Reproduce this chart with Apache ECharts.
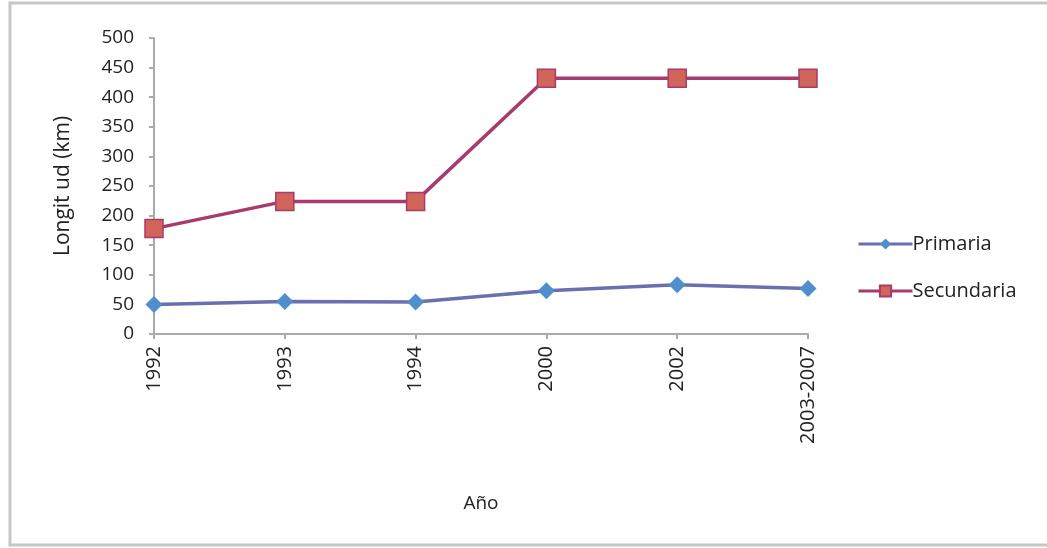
<!DOCTYPE html>
<html><head><meta charset="utf-8">
<script src="https://cdn.jsdelivr.net/npm/echarts@6/dist/echarts.min.js"></script>
<style>html,body{margin:0;padding:0;background:#fff}#c{width:1047px;height:548px}</style>
</head><body><div id="c"></div>
<script>
const categories = ['1992','1993','1994','2000','2002','2003-2007'];
const primaria = [50, 55, 54, 73, 83, 77];
const secundaria = [178, 224, 224, 432, 432, 432];
const yTicks = {min: 0, max: 500, interval: 50};

const font = 'Open Sans';
const chart = echarts.init(document.getElementById('c'), null, {renderer: 'canvas'});
chart.setOption({
  animation: false,
  backgroundColor: '#fff',
  graphic: [{
    type: 'rect', shape: {x: 10, y: 3, width: 1045, height: 542},
    style: {fill: 'none', stroke: '#c6c6c6', lineWidth: 3}, silent: true
  }],
  grid: {left: 154, right: 239, top: 38, bottom: 214},
  legend: {
    orient: 'vertical', left: 852, top: 229, itemGap: 27,
    itemWidth: 54, itemHeight: 14,
    lineStyle: {width: 3},
    textStyle: {fontFamily: font, fontSize: 20, color: '#222', padding: [0,0,0,-5]},
    data: ['Primaria', 'Secundaria']
  },
  xAxis: {
    type: 'category', data: categories, boundaryGap: false,
    name: 'Año', nameLocation: 'middle', nameGap: 160,
    nameTextStyle: {fontFamily: font, fontSize: 19, color: '#222'},
    axisLine: {lineStyle: {color: '#aaaaaa', width: 2}},
    axisTick: {show: true, alignWithLabel: true, length: 5, lineStyle: {color: '#aaaaaa', width: 2}},
    axisLabel: {rotate: 90, fontFamily: font, fontSize: 20, color: '#222', margin: 12, interval: 0}
  },
  yAxis: {
    type: 'value', min: yTicks.min, max: yTicks.max, interval: yTicks.interval,
    name: 'Longit ud (km)', nameLocation: 'middle', nameGap: 80, nameRotate: 90,
    nameTextStyle: {fontFamily: font, fontSize: 21, color: '#222'},
    splitLine: {show: false},
    axisLine: {show: true, lineStyle: {color: '#aaaaaa', width: 2}},
    axisTick: {show: true, length: 5, lineStyle: {color: '#aaaaaa', width: 2}},
    axisLabel: {fontFamily: font, fontSize: 19, color: '#222', margin: 20}
  },
  series: [
    {
      name: 'Primaria', type: 'line', data: primaria,
      symbol: 'diamond', symbolSize: 17,
      lineStyle: {color: '#6a6fb0', width: 3.5},
      itemStyle: {color: '#4f8fcd', borderColor: '#4f8fcd', borderWidth: 0}
    },
    {
      name: 'Secundaria', type: 'line', data: secundaria,
      symbol: 'rect', symbolSize: 18,
      lineStyle: {color: '#a83a6c', width: 3.5},
      itemStyle: {color: '#d2655a', borderColor: '#a83a6c', borderWidth: 1.5}
    }
  ]
});
</script></body></html>
